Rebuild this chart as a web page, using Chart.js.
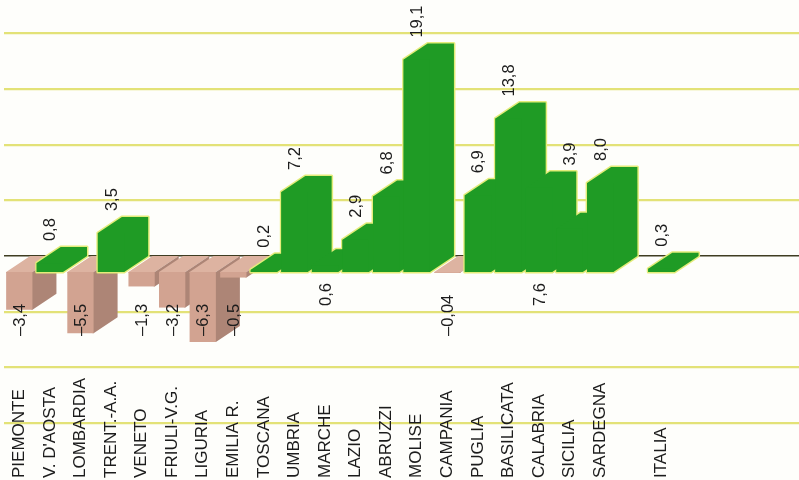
<!DOCTYPE html>
<html lang="it">
<head>
  <meta charset="UTF-8">
  <title>Variazione per regione</title>
  <script src="https://cdn.jsdelivr.net/npm/chart.js"></script>
  <style>
    html, body { margin: 0; padding: 0; background: #fefefb; }
    canvas { display: block; }
  </style>
</head>
<body>
  <canvas id="regionChart" width="799" height="480"></canvas>
  <script>
    // data
    const regions = ['PIEMONTE', "V. D'AOSTA", 'LOMBARDIA', 'TRENT.-A.A.', 'VENETO', 'FRIULI-V.G.', 'LIGURIA', 'EMILIA R.',
      'TOSCANA', 'UMBRIA', 'MARCHE', 'LAZIO', 'ABRUZZI', 'MOLISE', 'CAMPANIA', 'PUGLIA', 'BASILICATA', 'CALABRIA',
      'SICILIA', 'SARDEGNA'];
    const regionValues = [-3.4, 0.8, -5.5, 3.5, -1.3, -3.2, -6.3, -0.5, 0.2, 7.2, 0.6, 2.9, 6.8, 19.1, -0.04, 6.9, 13.8, 7.6, 3.9, 8.0];
    const totalLabel = 'ITALIA';
    const totalValue = 0.3;
    const gridTicks = [-15, -10, -5, 0, 5, 10, 15, 20];

    // one empty slot before the national total, a few after it
    const categories = regions.concat(['', totalLabel, '', '', '', '']);
    const values = regionValues.concat([null, totalValue, null, null, null, null]);

    const green = '#1f9b25';
    const greenEdge = '#e4ec7a';
    const pinkFront = '#d2a391';
    const pinkTop = '#ddb3a1';
    const pinkSide = '#ad8576';
    const gridYellow = '#e3e277';
    const zeroLine = '#3f3d22';
    const textColor = '#1c1c1c';

    // oblique depth of the blocks
    const depthX = 24;
    const depthY = 16;

    // vertical scale: front faces stand on y=272, back wall (grid) on y=256
    const pxPerUnit = 11.12;
    const frontZero = 272;
    const backZero = 256;
    const H = 480;

    function box(el) {
      const p = el.getProps(['x', 'y', 'base', 'width'], true);
      return {
        x0: p.x - p.width / 2,
        x1: p.x + p.width / 2,
        top: Math.min(p.y, p.base),
        bottom: Math.max(p.y, p.base)
      };
    }

    // faces overlap the front a little so no seam shows once the front is painted
    function topFace(b) {
      return [[b.x0, b.top + 1], [b.x0, b.top], [b.x0 + depthX, b.top - depthY], [b.x1 + depthX, b.top - depthY],
        [b.x1, b.top], [b.x1, b.top + 1]];
    }
    function sideFace(b) {
      return [[b.x1 - 1, b.top], [b.x1, b.top], [b.x1 + depthX, b.top - depthY], [b.x1 + depthX, b.bottom - depthY],
        [b.x1, b.bottom], [b.x1 - 1, b.bottom]];
    }
    function outline(b) {
      return [[b.x0, b.bottom], [b.x0, b.top], [b.x0 + depthX, b.top - depthY], [b.x1 + depthX, b.top - depthY],
        [b.x1 + depthX, b.bottom - depthY], [b.x1, b.bottom]];
    }
    function path(ctx, pts) {
      ctx.beginPath();
      pts.forEach((p, i) => i ? ctx.lineTo(p[0], p[1]) : ctx.moveTo(p[0], p[1]));
      ctx.closePath();
    }

    function fmt(v) {
      const s = Math.abs(v).toFixed(Math.abs(v) < 0.1 ? 2 : 1).replace('.', ',');
      return v < 0 ? '–' + s : s;
    }

    function upText(ctx, txt, x, y) {
      ctx.save();
      ctx.translate(x, y);
      ctx.rotate(-Math.PI / 2);
      ctx.textAlign = 'left';
      ctx.textBaseline = 'middle';
      ctx.fillText(txt, 0, 0);
      ctx.restore();
    }

    const blockPlugin = {
      id: 'blocks',
      beforeDatasetsDraw(chart) {
        const ctx = chart.ctx;
        const els = chart.getDatasetMeta(0).data;
        ctx.save();
        // negative blocks: top at zero level + darker side
        els.forEach((el, i) => {
          if (values[i] == null || values[i] >= 0) return;
          const b = box(el);
          path(ctx, topFace(b)); ctx.fillStyle = pinkTop; ctx.fill();
          path(ctx, sideFace(b)); ctx.fillStyle = pinkSide; ctx.fill();
        });
        // light rim round the green blocks, then the blocks themselves
        ctx.lineWidth = 3;
        ctx.lineJoin = 'round';
        ctx.strokeStyle = greenEdge;
        els.forEach((el, i) => {
          if (values[i] == null || values[i] < 0) return;
          path(ctx, outline(box(el)));
          ctx.stroke();
        });
        ctx.fillStyle = green;
        els.forEach((el, i) => {
          if (values[i] == null || values[i] < 0) return;
          path(ctx, outline(box(el)));
          ctx.fill();
        });
        ctx.restore();
      },
      afterDatasetsDraw(chart) {
        const ctx = chart.ctx;
        const x = chart.scales.x;
        const y = chart.scales.y;
        const back = chart.scales.back;
        ctx.save();
        ctx.fillStyle = textColor;

        // region names, reading upwards from the bottom edge
        ctx.font = '17px "Liberation Sans", Arial, sans-serif';
        categories.forEach((c, i) => {
          if (c) upText(ctx, c, x.getPixelForValue(i), 478);
        });

        // values
        ctx.font = '16.5px "Liberation Sans", Arial, sans-serif';
        values.forEach((v, i) => {
          if (v == null) return;
          const px = x.getPixelForValue(i) + 1;
          const prev = values[i - 1] == null ? v : values[i - 1];
          if (v < 0) {
            upText(ctx, fmt(v), px, y.getPixelForValue(0) + 64);
          } else if (prev - v > 5) {
            upText(ctx, fmt(v), px, y.getPixelForValue(0) + 34);
          } else {
            upText(ctx, fmt(v), px, back.getPixelForValue(Math.max(v, prev)) - 6);
          }
        });
        ctx.restore();
      }
    };

    new Chart(document.getElementById('regionChart'), {
      type: 'bar',
      data: {
        labels: categories,
        datasets: [{
          data: values,
          backgroundColor: values.map(v => v == null ? 'rgba(0,0,0,0)' : (v >= 0 ? green : pinkFront)),
          borderWidth: 0,
          inflateAmount: 0,
          barPercentage: 0.86,
          categoryPercentage: 1,
          yAxisID: 'y'
        }]
      },
      options: {
        responsive: false,
        animation: false,
        layout: { padding: { left: 4, right: 0, top: 0, bottom: 0 } },
        plugins: {
          legend: { display: false },
          tooltip: { enabled: false },
          title: { display: false }
        },
        scales: {
          x: { display: false },
          y: {
            display: false,
            min: -(H - frontZero) / pxPerUnit,
            max: frontZero / pxPerUnit
          },
          back: {
            position: 'left',
            min: -(H - backZero) / pxPerUnit,
            max: backZero / pxPerUnit,
            border: { display: false },
            ticks: { display: false, stepSize: 5, includeBounds: false },
            grid: {
              drawTicks: false,
              color: c => c.tick && c.tick.value === 0 ? zeroLine : gridYellow,
              lineWidth: c => c.tick && c.tick.value === 0 ? 1.5 : 2.2
            },
            afterBuildTicks: s => { s.ticks = s.ticks.filter(t => gridTicks.includes(t.value)); },
            afterFit: s => { s.width = 0; }
          }
        }
      },
      plugins: [blockPlugin]
    });
  </script>
</body>
</html>
